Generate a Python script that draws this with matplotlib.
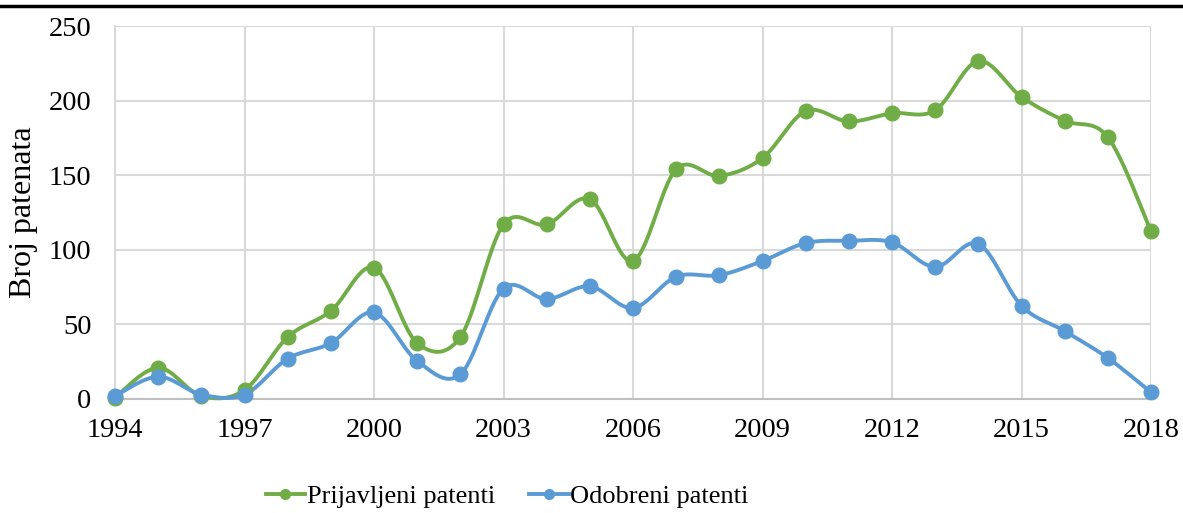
import numpy as np
import matplotlib
matplotlib.use("Agg")
import matplotlib.pyplot as plt
from matplotlib.lines import Line2D

years = list(range(1994, 2019))
prijavljeni = [1, 21, 2, 6, 41.5, 59, 88, 37.5, 41.5, 117, 117, 134, 92.5, 154, 149.5,
               161.5, 193, 186, 191.5, 193.5, 226.5, 202.5, 186.5, 175.5, 112.5]
odobreni = [2, 15, 3, 3, 27, 37.5, 58, 25.5, 16.5, 74, 67, 75.5, 61, 82, 83,
            92.5, 104.5, 106, 105, 88.5, 104, 62.5, 45.5, 27.5, 4.5]
xticks = list(range(1994, 2019, 3))
yticks = [0, 50, 100, 150, 200, 250]

GREEN = "#70AD47"
BLUE = "#5B9BD5"
GRID = "#D9D9D9"

plt.rcParams['font.family'] = ['Liberation Serif', 'DejaVu Serif']


def smooth(x, y, n=30):
    """Catmull-Rom style bezier smoothing (like Excel's smoothed line)."""
    x = np.asarray(x, float)
    y = np.asarray(y, float)
    P = np.column_stack([x, y])
    out = []
    for i in range(len(P) - 1):
        p0 = P[i - 1] if i > 0 else P[i]
        p1 = P[i]
        p2 = P[i + 1]
        p3 = P[i + 2] if i + 2 < len(P) else P[i + 1]
        c1 = p1 + (p2 - p0) / 6.0
        c2 = p2 - (p3 - p1) / 6.0
        t = np.linspace(0, 1, n)[:, None]
        seg = ((1 - t) ** 3) * p1 + 3 * ((1 - t) ** 2) * t * c1 + 3 * (1 - t) * t ** 2 * c2 + t ** 3 * p2
        if i > 0:
            seg = seg[1:]
        out.append(seg)
    out = np.vstack(out)
    return out[:, 0], out[:, 1]


fig = plt.figure(figsize=(11.83, 5.13), dpi=100)
ax = fig.add_axes([115 / 1183, 1 - 399 / 513, (1151 - 115) / 1183, (399 - 26) / 513])

for data, col, lab in [(prijavljeni, GREEN, "Prijavljeni patenti"), (odobreni, BLUE, "Odobreni patenti")]:
    sx, sy = smooth(years, data)
    ax.plot(sx, sy, color=col, lw=2.8, zorder=3, clip_on=False, solid_capstyle='round')
    ax.plot(years, data, 'o', color=col, ms=10.5, zorder=4, clip_on=False)

ax.set_xlim(1994, 2018)
ax.set_ylim(0, 250)
ax.set_xticks(xticks)
ax.set_yticks(yticks)
ax.grid(True, color=GRID, lw=1.5, zorder=0)
for s in ["top", "right"]:
    ax.spines[s].set_visible(False)
ax.spines["left"].set_color(GRID)
ax.spines["left"].set_linewidth(1.5)
ax.spines["bottom"].set_color("#BFBFBF")
ax.spines["bottom"].set_linewidth(1.5)
ax.tick_params(axis='both', length=0, labelsize=20.5, colors='black')
ax.tick_params(axis='y', pad=17)
ax.tick_params(axis='x', pad=14)
ax.set_ylabel("Broj patenata", fontsize=23, labelpad=8)

handles = [Line2D([], [], color=GREEN, lw=2.8, marker='o', ms=7),
           Line2D([], [], color=BLUE, lw=2.8, marker='o', ms=7)]
fig.legend(handles, ["Prijavljeni patenti", "Odobreni patenti"], loc='center',
           bbox_to_anchor=(507 / 1183, 1 - 496 / 513), ncol=2, frameon=False,
           fontsize=19, handlelength=1.5, handletextpad=0.05, columnspacing=1.3)

fig.add_artist(Line2D([0, 1], [1 - 6 / 513, 1 - 6 / 513], color='black', lw=2.5,
                      transform=fig.transFigure))

fig.savefig("out.png", dpi=100)
